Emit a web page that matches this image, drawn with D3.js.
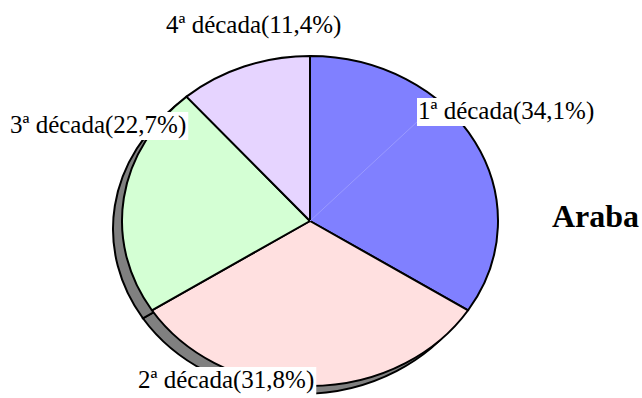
<!DOCTYPE html>
<html>
<head>
<meta charset="utf-8">
<script src="https://cdn.jsdelivr.net/npm/d3@7"></script>
<style>
  html, body { margin: 0; padding: 0; background: #fff; }
  svg { display: block; }
  text { font-family: "Liberation Serif", "Times New Roman", serif; }
</style>
</head>
<body>
<svg id="chart" width="642" height="398"></svg>
<script>
// Share of cases by decade (Araba)
const categories = ["1ª década", "2ª década", "3ª década", "4ª década"];
const shares = [34.1, 31.8, 22.7, 11.4];
const colors = ["#8080FF", "#FFE0E0", "#D4FFD4", "#E6D4FF"];
const title = "Araba";

const cx = 310, cy = 221, rx = 188, ry = 165;
const shadowDx = -9, shadowDy = 8;

const svg = d3.select("#chart");

const data = categories.map((c, i) => ({ name: c, value: shares[i], color: colors[i] }));
const pie = d3.pie().value(d => d.value).sort(null).startAngle(0).endAngle(2 * Math.PI);
const arcs = pie(data);
const arc = d3.arc().innerRadius(0).outerRadius(1);

// drop shadow of the pie
const shadow = svg.append("g")
  .attr("transform", `translate(${cx + shadowDx},${cy + shadowDy}) scale(${rx},${ry})`);
shadow.selectAll("path").data(arcs).join("path")
  .attr("d", arc)
  .attr("fill", "#808080")
  .attr("stroke", "#000")
  .attr("stroke-width", 2)
  .attr("vector-effect", "non-scaling-stroke");

const fmt = v => d3.format(".1f")(v).replace(".", ",");
const labelPos = [
  { x: 418, y: 119 },
  { x: 138, y: 388 },
  { x: 10, y: 133 },
  { x: 166, y: 33 }
];

// slices
const slices = svg.append("g")
  .attr("transform", `translate(${cx},${cy}) scale(${rx},${ry})`);
slices.selectAll("path").data(arcs).join("path")
  .attr("d", arc)
  .attr("fill", d => d.data.color)
  .attr("stroke", "#000")
  .attr("stroke-width", 2)
  .attr("stroke-linejoin", "round")
  .attr("vector-effect", "non-scaling-stroke");

// leader line of the first label
svg.append("line")
  .attr("x1", cx).attr("y1", cy)
  .attr("x2", labelPos[0].x).attr("y2", labelPos[0].y + 2)
  .attr("stroke", "#9a9aff")
  .attr("stroke-width", 1);

// labels with white background boxes
const labels = svg.append("g");
arcs.forEach((d, i) => {
  const g = labels.append("g");
  const t = g.append("text")
    .attr("x", labelPos[i].x)
    .attr("y", labelPos[i].y)
    .attr("font-size", 25)
    .attr("fill", "#000")
    .text(`${d.data.name}(${fmt(d.data.value)}%)`);
  const b = t.node().getBBox();
  g.insert("rect", "text")
    .attr("x", b.x - 1).attr("y", b.y + 1)
    .attr("width", b.width + 3).attr("height", b.height)
    .attr("fill", "#fff");
});

svg.append("text")
  .attr("x", 552)
  .attr("y", 227)
  .attr("font-size", 32)
  .attr("font-weight", "bold")
  .attr("fill", "#000")
  .text(title);
</script>
</body>
</html>
